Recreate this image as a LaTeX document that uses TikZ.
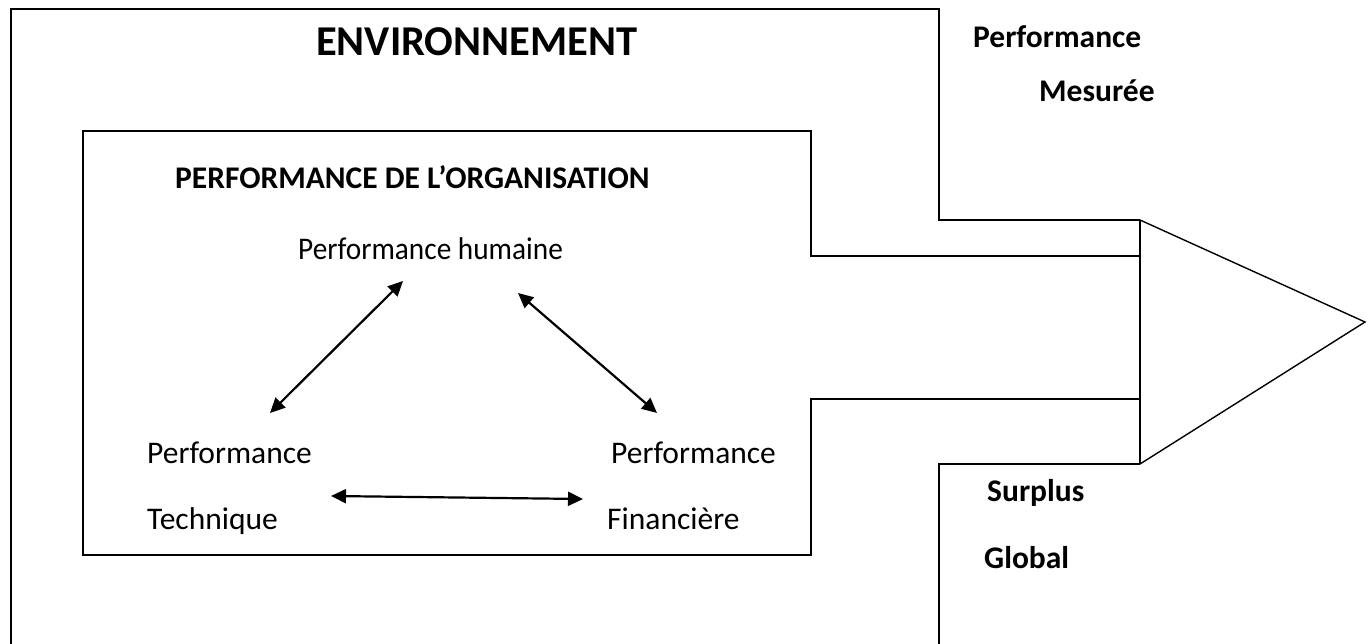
\documentclass[tikz,border=0pt]{standalone}
\usepackage{fontspec}
\setmainfont{Carlito}
\usetikzlibrary{arrows.meta}
\tikzset{
  frame/.style={line width=1.4pt, line join=miter},
  label/.style={inner sep=0pt, anchor=base west, font=\fontsize{31.5}{36}\selectfont},
  outlabel/.style={inner sep=0pt, anchor=base west, font=\fontsize{31.5}{36}\selectfont\bfseries},
  link/.style={line width=2.2pt, {Triangle[length=15pt,width=14pt]}-{Triangle[length=15pt,width=14pt]}}
}
\begin{document}
\begin{tikzpicture}[x=1pt,y=-1pt]
\useasboundingbox (0,0) rectangle (1368,644);
\fill[white] (0,0) rectangle (1368,644);

% outer environment frame with the upper flank of the output arrow
\draw[frame] (11,644) -- (11,9) -- (939,9) -- (939,220) -- (1140,220);
\draw[frame] (1140,464) -- (939,464) -- (939,644);
% inner organisation frame opening into the arrow shaft
\draw[frame] (1140,256) -- (811,256) -- (811,131) -- (83,131) -- (83,555) -- (811,555) -- (811,399) -- (1140,399);
% arrow head
\draw[frame] (1140,220) -- (1140,464);
\draw[frame] (1140,220) -- (1365,322) -- (1140,464);

% titles
\node[inner sep=0pt, anchor=base west, font=\fontsize{42.5}{48}\selectfont\bfseries] (env) at (316,56) {ENVIRONNEMENT};
\node[inner sep=0pt, anchor=base west, font=\fontsize{31.5}{36}\selectfont\bfseries] (org) at (175,189) {PERFORMANCE DE L’ORGANISATION};

% three dimensions of performance
\node[label] (hum) at (298,260) {\scalebox{0.93}[1]{Performance humaine}};
\node[label] (tech1) at (147,463) {Performance};
\node[label] (tech2) at (147,529) {Technique};
\node[label] (fin1) at (611,463) {Performance};
\node[label] (fin2) at (607,529) {Financière};

% output labels
\node[outlabel] (pm1) at (973,48) {Performance};
\node[outlabel] (pm2) at (1039,102) {Mesurée};
\node[outlabel] (sg1) at (987,501) {Surplus};
\node[outlabel] (sg2) at (984,568) {Global};

% arrow end points between the dimensions
\coordinate (hl) at (403,281);
\coordinate (hr) at (518,293);
\coordinate (tl) at (270,413);
\coordinate (fr) at (657,413);
\coordinate (tb) at (331,496);
\coordinate (fb) at (583,499);

\draw[link] (tl) -- (hl);
\draw[link] (hr) -- (fr);
\draw[link] (tb) -- (fb);
\end{tikzpicture}
\end{document}
